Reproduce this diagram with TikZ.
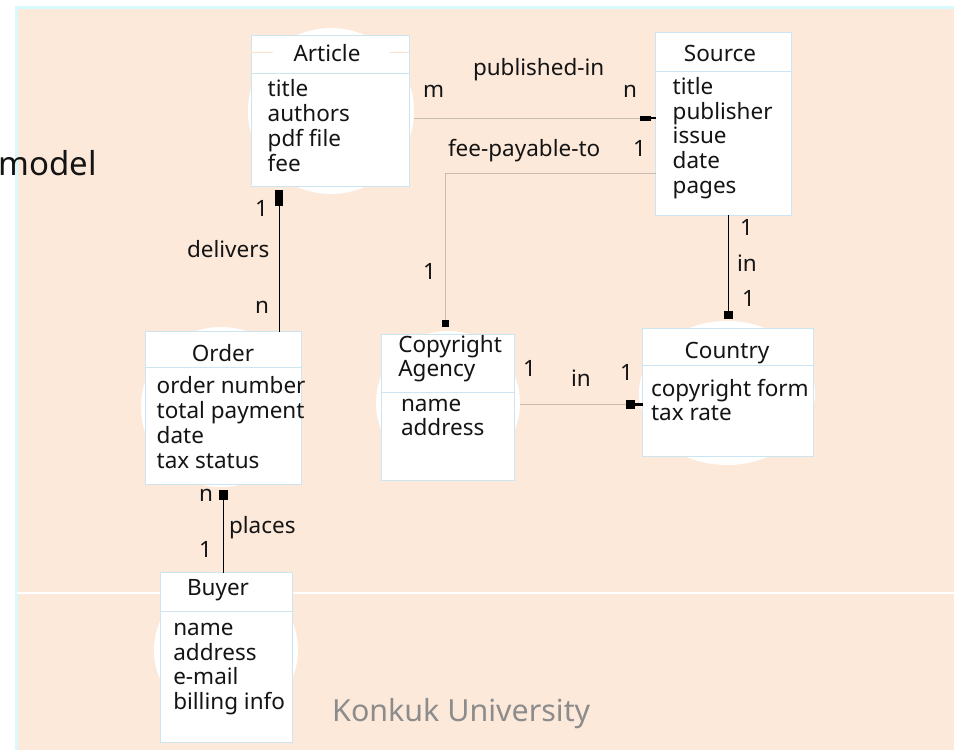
\documentclass[tikz,border=0pt]{standalone}
\usepackage{fontspec}
\setmainfont{Noto Sans}
\usetikzlibrary{arrows.meta,shapes.geometric}
\definecolor{peach}{RGB}{253,233,218}
\definecolor{cyanb}{RGB}{215,250,255}
\definecolor{boxb}{RGB}{205,228,242}
\definecolor{tanline}{RGB}{200,188,176}
\definecolor{gtext}{RGB}{140,140,140}
\definecolor{ink}{RGB}{20,20,20}
\definecolor{hdrpeach}{RGB}{250,225,205}
\begin{document}
\begin{tikzpicture}[x=1pt,y=-1pt,
  ebox/.style={draw=boxb,fill=white,line width=0.8pt,inner sep=0pt,outer sep=0pt},
  blob/.style={fill=white,draw=none,inner sep=0pt,outer sep=0pt},
  txt/.style={inner sep=0pt,outer sep=0pt,anchor=base west,font=\fontsize{22.5}{25}\selectfont,text=ink},
  ttl/.style={inner sep=0pt,outer sep=0pt,anchor=base,font=\fontsize{22.5}{25}\selectfont,text=ink},
  sepline/.style={draw=boxb,line width=0.8pt},
  blk/.style={draw=black,line width=0.9pt},
  gry/.style={draw=tanline,line width=0.9pt},
]
\useasboundingbox (0,0) rectangle (954,750);
% background
\fill[white] (-5,-5) rectangle (960,760);
\fill[peach] (17,9) rectangle (960,760);
\draw[cyanb,line width=3pt] (16,6) -- (16,760);
\draw[cyanb,line width=3pt] (15,7.5) -- (960,7.5);
\draw[white,line width=2pt] (17,593) -- (960,593);

% white blobs behind entities
\node[blob,circle,minimum size=166pt] (artc) at (331,111) {};
\node[blob,circle,minimum size=160pt] (ordc) at (221,407) {};
\node[blob,circle,minimum size=144pt] (copc) at (448,403) {};
\node[blob,ellipse,minimum width=176pt,minimum height=144pt] (couc) at (727,393) {};
\node[blob,circle,minimum size=144pt] (buyc) at (226,650) {};

% entity boxes
\node[ebox,minimum width=158pt,minimum height=151pt] (article) at (330,111.2) {};
\node[ebox,minimum width=135.3pt,minimum height=182.3pt] (source) at (723.3,123.8) {};
\node[ebox,minimum width=156pt,minimum height=152.6pt] (order) at (223.7,408) {};
\node[ebox,minimum width=132.6pt,minimum height=145.7pt] (copyright) at (448,407.2) {};
\node[ebox,minimum width=170.6pt,minimum height=127.7pt] (country) at (728,392.2) {};
\node[ebox,minimum width=132.3pt,minimum height=169.3pt] (buyer) at (226.2,657.4) {};

% header separators
\draw[sepline] ([yshift=-37.3pt]article.north west) -- ([yshift=-37.3pt]article.north east);
\draw[hdrpeach,line width=0.6pt] ([yshift=-16.3pt]article.north west) -- ++(22,0);
\draw[hdrpeach,line width=0.6pt] ([yshift=-16.3pt]article.north east) -- ++(-19,0);
\draw[sepline] ([yshift=-39pt]source.north west) -- ([yshift=-39pt]source.north east);
\draw[sepline] ([yshift=-35.3pt]order.north west) -- ([yshift=-35.3pt]order.north east);
\draw[sepline] ([yshift=-58pt]copyright.north west) -- ([yshift=-58pt]copyright.north east);
\draw[sepline] ([yshift=-36.7pt]country.north west) -- ([yshift=-36.7pt]country.north east);
\draw[sepline] ([yshift=-39pt]buyer.north west) -- ([yshift=-39pt]buyer.north east);

% titles
\node[ttl] (t-art) at (327,61.7) {Article};
\node[ttl] (t-src) at (720,61.7) {Source};
\node[ttl] (t-ord) at (223,361.7) {Order};
\node[txt] (t-cop1) at (398.3,352.7) {Copyright};
\node[txt] (t-cop2) at (398.3,376.7) {Agency};
\node[ttl] (t-cou) at (727,358.3) {Country};
\node[ttl] (t-buy) at (218,595) {Buyer};

% attributes
\node[txt] (a-art1) at (267.7,96) {title};
\node[txt] (a-art2) at (267.7,121) {authors};
\node[txt] (a-art3) at (267.7,146) {pdf file};
\node[txt] (a-art4) at (267.7,171) {fee};
\node[txt] (a-src1) at (672.7,94) {title};
\node[txt] (a-src2) at (672.7,119) {publisher};
\node[txt] (a-src3) at (672.7,143) {issue};
\node[txt] (a-src4) at (672.7,168) {date};
\node[txt] (a-src5) at (672.7,193) {pages};
\node[txt] (a-ord1) at (156.7,393.3) {order number};
\node[txt] (a-ord2) at (156.7,418.3) {total payment};
\node[txt] (a-ord3) at (156.7,443.3) {date};
\node[txt] (a-ord4) at (156.7,468.3) {tax status};
\node[txt] (a-cop1) at (401,411) {name};
\node[txt] (a-cop2) at (401,435) {address};
\node[txt] (a-cou1) at (651,396.7) {copyright form};
\node[txt] (a-cou2) at (651,420.7) {tax rate};
\node[txt] (a-buy1) at (173.3,635) {name};
\node[txt] (a-buy2) at (173.3,660) {address};
\node[txt] (a-buy3) at (173.3,684) {e-mail};
\node[txt] (a-buy4) at (173.3,709.3) {billing info};

% helper coordinates
\coordinate (pubY) at (0,118.3);
\coordinate (feeY) at (0,173.3);
\coordinate (inY) at (0,404);
\coordinate (delX) at (279,0);
\coordinate (plX) at (223.3,0);
\coordinate (feeX) at (445,0);

% connectors
\draw[gry,-{Rectangle[length=11pt,width=5pt,color=black,sep=0pt]Rectangle[length=5pt,width=2pt,color=black]}]
  (artc.east |- pubY) -- (source.west |- pubY);
\draw[gry,-{Rectangle[length=7pt,width=7pt,color=black]},shorten >=7pt]
  (source.west |- feeY) -| (feeX |- copyright.north);
\draw[blk,-{Rectangle[length=8pt,width=9pt]},shorten >=9pt]
  (country.north |- source.south) -- (country.north);
\draw[gry,-{Rectangle[length=9pt,width=9pt,color=black,sep=0pt]Rectangle[length=8pt,width=3pt,color=black]}]
  (copc.east |- inY) -- (country.west |- inY);
\draw[blk,-{Rectangle[length=16pt,width=8pt]},shorten >=3pt]
  (delX |- order.north) -- (delX |- article.south);
\draw[blk,-{Rectangle[length=10pt,width=9pt]},shorten >=6pt]
  (plX |- buyer.north) -- (plX |- order.south);

% relationship labels
\node[txt] (l-m) at (423,97) {m};
\node[txt] (l-pub) at (473,75) {published-in};
\node[txt] (l-n) at (623,97) {n};
\node[txt] (l-fee) at (448,156.7) {fee-payable-to};
\node[txt] (l-fee1) at (633,156.7) {1};
\node[txt] (l-fee2) at (423,279.3) {1};
\node[txt] (l-sc1) at (740,235) {1};
\node[txt] (l-scin) at (737,271.7) {in};
\node[txt] (l-sc2) at (742,306.7) {1};
\node[txt] (l-cc1) at (523,376.7) {1};
\node[txt] (l-ccin) at (571,386) {in};
\node[txt] (l-cc2) at (620,380) {1};
\node[txt] (l-d1) at (255,216) {1};
\node[txt] (l-del) at (187,257.3) {delivers};
\node[txt] (l-dn) at (255,313.3) {n};
\node[txt] (l-pn) at (199,501.7) {n};
\node[txt] (l-pl) at (229,533.3) {places};
\node[txt] (l-p1) at (199,557.3) {1};

% other texts
\node[inner sep=0pt,anchor=base east,font=\fontsize{33}{36}\selectfont,text=ink] (model) at (97,175) {model};
\node[inner sep=0pt,anchor=base west,font=\fontsize{30.4}{33}\selectfont,text=gtext] (konkuk) at (332,721.5) {Konkuk University};
\end{tikzpicture}
\end{document}
